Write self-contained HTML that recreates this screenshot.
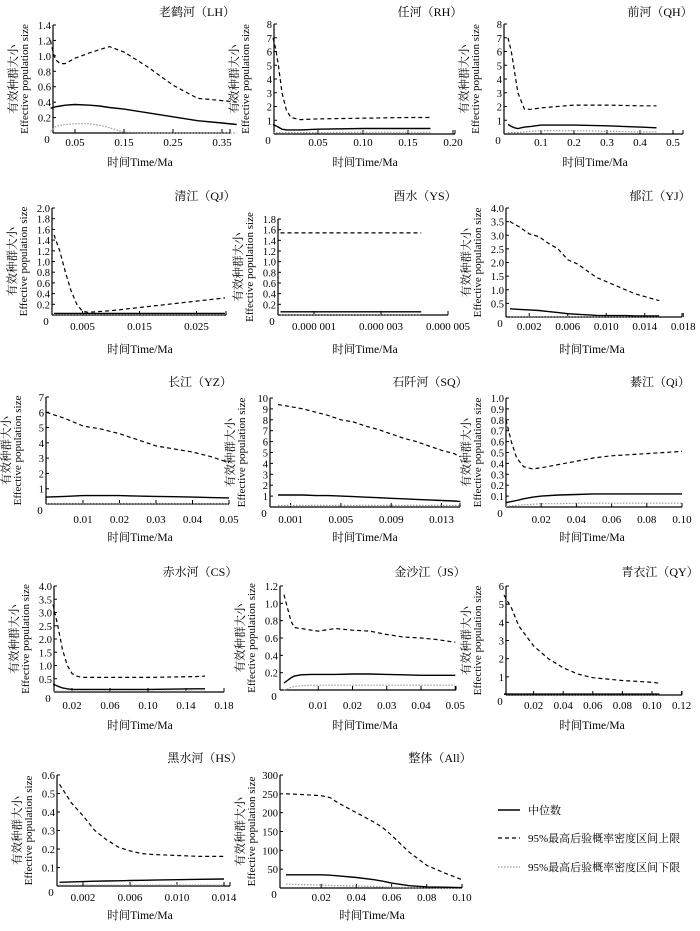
<!DOCTYPE html>
<html><head><meta charset="utf-8">
<style>
html,body{margin:0;padding:0;background:#fff;}
svg{display:block;font-family:"Liberation Serif","Noto Serif CJK SC",serif;}
</style></head>
<body>
<svg id="chart" width="700" height="931" viewBox="0 0 700 931" xmlns="http://www.w3.org/2000/svg">
<g id="legend" font-size="11">
<line x1="498" y1="810" x2="520" y2="810" stroke="#000" stroke-width="1.4"/>
<text x="528" y="814">中位数</text>
<line x1="498" y1="838" x2="520" y2="838" stroke="#000" stroke-width="1.2" stroke-dasharray="4,3"/>
<text x="528" y="842">95%最高后验概率密度区间上限</text>
<line x1="498" y1="867" x2="520" y2="867" stroke="#999" stroke-width="1.2" stroke-dasharray="1.5,1.5"/>
<text x="528" y="871">95%最高后验概率密度区间下限</text>
</g>
</svg>
<script>
// ---- data ----
const lhT=[0,0.005,0.01,0.02,0.03,0.05,0.08,0.1,0.12,0.15,0.2,0.25,0.3,0.35,0.38];
const lhUp=[1.2,1.05,0.95,0.9,0.9,0.97,1.04,1.08,1.12,1.05,0.85,0.62,0.45,0.42,0.40];
const lhMed=[0.32,0.33,0.34,0.35,0.36,0.37,0.36,0.35,0.33,0.31,0.26,0.21,0.16,0.13,0.11];
const lhLow=[0.02,0.05,0.08,0.1,0.11,0.12,0.12,0.1,0.07,0.01,0,0,0,0,0];
const lhX=["0.05","0.15","0.25","0.35"];
const lhY=["0.2","0.4","0.6","0.8","1.0","1.2","1.4"];

const rhT=[0,0.003,0.006,0.01,0.015,0.02,0.03,0.05,0.1,0.15,0.175];
const rhUp=[7,6.2,5,3,1.7,1.2,1.05,1.1,1.15,1.2,1.2];
const rhMed=[0.7,0.6,0.5,0.35,0.3,0.3,0.3,0.35,0.4,0.4,0.4];
const rhLow=[0.1,0.1,0.1,0.1,0.1,0.1,0.1,0.1,0.12,0.12,0.12];
const rhX=["0.05","0.10","0.15","0.20"];
const rhY=["1","2","3","4","5","6","7","8"];

const qhT=[0,0.01,0.02,0.03,0.05,0.07,0.1,0.2,0.3,0.4,0.45];
const qhUp=[7,6,4.5,3,1.8,1.8,1.9,2.1,2.1,2.05,2.05];
const qhMed=[0.7,0.55,0.45,0.4,0.5,0.55,0.65,0.65,0.6,0.5,0.45];
const qhLow=[0.1,0.1,0.1,0.1,0.15,0.2,0.25,0.25,0.2,0.15,0.15];
const qhX=["0.1","0.2","0.3","0.4","0.5"];
const qhY=["1","2","3","4","5","6","7","8"];

const qjT=[0,0.001,0.002,0.003,0.004,0.005,0.006,0.01,0.015,0.02,0.025,0.03];
const qjUp=[1.5,1.2,0.8,0.45,0.2,0.07,0.05,0.08,0.14,0.2,0.26,0.32];
const qjMed=[0.03,0.03,0.03,0.03,0.03,0.03,0.03,0.03,0.03,0.03,0.03,0.03];
const qjLow=[0.01,0.01,0.01,0.01,0.01,0.01,0.01,0.01,0.01,0.01,0.01,0.01];
const qjX=["0.005","0.015","0.025"];
const qjY=["0.2","0.4","0.6","0.8","1.0","1.2","1.4","1.6","1.8","2.0"];

const ysT=[0,0.000001,0.000002,0.000003,0.0000042];
const ysUp=[1.54,1.54,1.54,1.54,1.54];
const ysMed=[0.06,0.06,0.06,0.06,0.06];
const ysLow=[0.005,0.005,0.005,0.005,0.005];
const ysX=["0.000 001","0.000 003","0.000 005"];
const ysY=["0.2","0.4","0.6","0.8","1.0","1.2","1.4","1.6","1.8"];

const yjT=[0,0.001,0.002,0.003,0.004,0.005,0.006,0.007,0.008,0.009,0.01,0.011,0.012,0.013,0.014,0.015,0.0155];
const yjUp=[3.5,3.3,3.05,2.95,2.7,2.5,2.1,1.95,1.7,1.45,1.3,1.15,1.0,0.85,0.75,0.65,0.6];
const yjMed=[0.3,0.28,0.26,0.24,0.2,0.16,0.12,0.1,0.08,0.06,0.05,0.05,0.05,0.04,0.04,0.04,0.04];
const yjLow=[0.01,0.01,0.01,0.01,0.01,0.01,0.01,0.01,0.01,0.01,0.01,0.01,0.01,0.01,0.01,0.01,0.01];
const yjX=["0.002","0.006","0.010","0.014","0.018"];
const yjY=["0.5","1.0","1.5","2.0","2.5","3.0","3.5","4.0"];

const yzT=[0,0.005,0.01,0.015,0.02,0.025,0.03,0.035,0.04,0.045,0.05];
const yzUp=[6,5.6,5.1,4.9,4.6,4.2,3.8,3.6,3.4,3.1,2.7];
const yzMed=[0.45,0.5,0.55,0.55,0.55,0.52,0.5,0.48,0.45,0.42,0.4];
const yzLow=[0.02,0.02,0.02,0.02,0.02,0.02,0.02,0.02,0.02,0.02,0.02];
const yzX=["0.01","0.02","0.03","0.04","0.05"];
const yzY=["1","2","3","4","5","6","7"];

const sqT=[0,0.001,0.002,0.003,0.004,0.005,0.006,0.007,0.008,0.009,0.01,0.011,0.012,0.013,0.014,0.0145];
const sqUp=[9.4,9.2,9.0,8.7,8.4,8.0,7.8,7.4,7.1,6.7,6.3,6.0,5.6,5.2,4.9,4.6];
const sqMed=[1.1,1.1,1.1,1.05,1.05,1.0,0.95,0.9,0.85,0.8,0.75,0.7,0.65,0.6,0.55,0.5];
const sqLow=[0.15,0.15,0.15,0.15,0.15,0.15,0.15,0.15,0.15,0.15,0.15,0.15,0.15,0.15,0.15,0.15];
const sqX=["0.001","0.005","0.009","0.013"];
const sqY=["1","2","3","4","5","6","7","8","9","10"];

const qiT=[0,0.003,0.006,0.01,0.015,0.02,0.03,0.04,0.05,0.06,0.08,0.1];
const qiUp=[0.8,0.6,0.45,0.37,0.35,0.36,0.39,0.42,0.45,0.47,0.49,0.51];
const qiMed=[0.04,0.05,0.06,0.075,0.09,0.1,0.11,0.115,0.12,0.12,0.12,0.12];
const qiLow=[0.005,0.01,0.015,0.02,0.025,0.03,0.03,0.035,0.035,0.035,0.035,0.035];
const qiX=["0.02","0.04","0.06","0.08","0.10"];
const qiY=["0.1","0.2","0.3","0.4","0.5","0.6","0.7","0.8","0.9","1.0"];

const csT=[0,0.005,0.01,0.015,0.02,0.025,0.03,0.05,0.1,0.15,0.16];
const csUp=[3.3,2.5,1.6,1.0,0.7,0.6,0.55,0.55,0.55,0.58,0.6];
const csMed=[0.3,0.22,0.15,0.12,0.1,0.1,0.1,0.1,0.1,0.12,0.12];
const csLow=[0.03,0.03,0.03,0.03,0.03,0.03,0.03,0.03,0.03,0.03,0.03];
const csX=["0.02","0.06","0.10","0.14","0.18"];
const csY=["0.5","1.0","1.5","2.0","2.5","3.0","3.5","4.0"];

const jsT=[0,0.001,0.002,0.003,0.005,0.008,0.01,0.015,0.02,0.025,0.03,0.035,0.04,0.045,0.05];
const jsUp=[1.1,0.95,0.8,0.72,0.71,0.69,0.68,0.71,0.69,0.68,0.64,0.61,0.6,0.58,0.55];
const jsMed=[0.08,0.11,0.14,0.16,0.175,0.18,0.18,0.18,0.185,0.185,0.18,0.175,0.17,0.17,0.17];
const jsLow=[0,0.01,0.03,0.04,0.05,0.055,0.055,0.055,0.055,0.055,0.055,0.055,0.055,0.055,0.055];
const jsX=["0.01","0.02","0.03","0.04","0.05"];
const jsY=["0.2","0.4","0.6","0.8","1.0","1.2"];

const qyT=[0,0.005,0.01,0.02,0.03,0.04,0.05,0.06,0.08,0.1,0.105];
const qyUp=[5.5,4.8,3.8,2.7,2.0,1.5,1.15,0.95,0.8,0.7,0.65];
const qyMed=[0.05,0.05,0.05,0.05,0.05,0.05,0.05,0.05,0.05,0.05,0.05];
const qyLow=[0.02,0.02,0.02,0.02,0.02,0.02,0.02,0.02,0.02,0.02,0.02];
const qyX=["0.02","0.04","0.06","0.08","0.10","0.12"];
const qyY=["1","2","3","4","5","6"];

const hsT=[0,0.001,0.002,0.003,0.004,0.005,0.006,0.007,0.008,0.01,0.012,0.014];
const hsUp=[0.55,0.45,0.38,0.3,0.25,0.21,0.19,0.175,0.17,0.165,0.16,0.16];
const hsMed=[0.02,0.022,0.024,0.026,0.027,0.028,0.03,0.031,0.032,0.034,0.036,0.038];
const hsLow=[0.005,0.005,0.005,0.005,0.005,0.005,0.005,0.005,0.005,0.005,0.005,0.005];
const hsX=["0.002","0.006","0.010","0.014"];
const hsY=["0.1","0.2","0.3","0.4","0.5","0.6"];

const allT=[0,0.01,0.02,0.025,0.03,0.04,0.05,0.055,0.06,0.07,0.08,0.09,0.1];
const allUp=[250,248,245,240,225,200,175,160,140,95,60,40,22];
const allMed=[35,35,35,34,32,28,22,18,13,6,3,2,1];
const allLow=[10,9,8,7,6,5,4,3,2,1,0.5,0.3,0.2];
const allX=["0.02","0.04","0.06","0.08","0.10"];
const allY=["50","100","150","200","250","300"];

// ---- layout ----
const panels=[
 {id:"lh",title:"老鹤河（LH）",t:lhT,up:lhUp,med:lhMed,low:lhLow,xt:lhX,yt:lhY,ax:53,x0:50.5,xs:490,xe:230,zero:133,ytop:25,ymax:1.4,tx:197,ty:16,lx:140,ly:166,xly:146},
 {id:"rh",title:"任河（RH）",t:rhT,up:rhUp,med:rhMed,low:rhLow,xt:rhX,yt:rhY,ax:274,x0:273,xs:900,xe:455,zero:134,ytop:24,ymax:8,tx:430,ty:16,lx:365,ly:166,xly:146},
 {id:"qh",title:"前河（QH）",t:qhT,up:qhUp,med:qhMed,low:qhLow,xt:qhX,yt:qhY,ax:504,x0:508,xs:330,xe:683,zero:134,ytop:24,ymax:8,tx:660,ty:16,lx:595,ly:166,xly:146},
 {id:"qj",title:"清江（QJ）",t:qjT,up:qjUp,med:qjMed,low:qjLow,xt:qjX,yt:qjY,ax:52,x0:54,xs:5700,xe:226,zero:315,ytop:208,ymax:2.0,tx:205,ty:200,lx:140,ly:353,xly:330},
 {id:"ys",title:"酉水（YS）",t:ysT,up:ysUp,med:ysMed,low:ysLow,xt:ysX,yt:ysY,ax:278,x0:280.5,xs:33500000,xe:448,zero:315,ytop:219,ymax:1.8,tx:425,ty:200,lx:365,ly:353,xly:330},
 {id:"yj",title:"郁江（YJ）",t:yjT,up:yjUp,med:yjMed,low:yjLow,xt:yjX,yt:yjY,ax:506,x0:510,xs:9625,xe:682,zero:317,ytop:208,ymax:4.0,tx:660,ty:200,lx:592,ly:353,xly:330},
 {id:"yz",title:"长江（YZ）",t:yzT,up:yzUp,med:yzMed,low:yzLow,xt:yzX,yt:yzY,ax:46,x0:46.5,xs:3650,xe:229,zero:504,ytop:397,ymax:7,tx:200,ty:386,lx:140,ly:541,xly:523},
 {id:"sq",title:"石阡河（SQ）",t:sqT,up:sqUp,med:sqMed,low:sqLow,xt:sqX,yt:sqY,ax:270,x0:278,xs:12580,xe:460,zero:507,ytop:398,ymax:10,tx:430,ty:386,lx:365,ly:541,xly:523},
 {id:"qi",title:"綦江（Qi）",t:qiT,up:qiUp,med:qiMed,low:qiLow,xt:qiX,yt:qiY,ax:506,x0:506,xs:1760,xe:682,zero:507,ytop:398,ymax:1.0,tx:660,ty:386,lx:592,ly:541,xly:523},
 {id:"cs",title:"赤水河（CS）",t:csT,up:csUp,med:csMed,low:csLow,xt:csX,yt:csY,ax:54,x0:53,xs:950,xe:224,zero:692,ytop:586,ymax:4.0,tx:200,ty:576,lx:140,ly:729,xly:709},
 {id:"js",title:"金沙江（JS）",t:jsT,up:jsUp,med:jsMed,low:jsLow,xt:jsX,yt:jsY,ax:280,x0:284,xs:3425,xe:456,zero:690,ytop:586,ymax:1.2,tx:430,ty:576,lx:365,ly:729,xly:709},
 {id:"qy",title:"青衣江（QY）",t:qyT,up:qyUp,med:qyMed,low:qyLow,xt:qyX,yt:qyY,ax:506,x0:504,xs:1480,xe:682,zero:695,ytop:586,ymax:6,tx:660,ty:576,lx:592,ly:729,xly:709},
 {id:"hs",title:"黑水河（HS）",t:hsT,up:hsUp,med:hsMed,low:hsLow,xt:hsX,yt:hsY,ax:57,x0:59.5,xs:11750,xe:230,zero:886,ytop:775,ymax:0.6,tx:205,ty:762,lx:140,ly:919,xly:901},
 {id:"all",title:"整体（All）",t:allT,up:allUp,med:allMed,low:allLow,xt:allX,yt:allY,ax:280,x0:286,xs:1760,xe:462,zero:888,ytop:775,ymax:300,tx:440,ty:762,lx:372,ly:919,xly:901}
];
const NS="http://www.w3.org/2000/svg";
const svg=document.getElementById('chart');
function mk(tag,attrs,parent,txt){const e=document.createElementNS(NS,tag);for(const k in attrs)e.setAttribute(k,attrs[k]);if(txt!==undefined)e.textContent=txt;parent.appendChild(e);return e;}
panels.forEach(p=>{
  const g=mk('g',{},svg);
  
  
  const X=v=>p.x0+v*p.xs;
  const Y=v=>p.zero-v*(p.zero-p.ytop)/p.ymax;
  const ya=mk('line',{x1:p.ax,y1:p.ytop,x2:p.ax,y2:p.zero,stroke:'#000','stroke-width':1.2},g);
  
  
  const xa=mk('line',{x1:p.ax,y1:p.zero,x2:p.xe,y2:p.zero,stroke:'#000','stroke-width':1.2},g);
  
  
  mk('line',{x1:p.xe,y1:p.zero,x2:p.xe,y2:p.zero-4,stroke:'#000','stroke-width':1},g);
  p.yt.forEach(s=>{const v=parseFloat(s);const y=Y(v);
    mk('line',{x1:p.ax,y1:y,x2:p.ax+3,y2:y,stroke:'#000','stroke-width':1},g);
    const t=mk('text',{x:p.ax-2,y:y+4,'font-size':10.5,'text-anchor':'end'},g,s);
    
    
  });
  p.xt.forEach(s=>{const v=parseFloat(s.replace(/ /g,''));const x=X(v);
    mk('line',{x1:x,y1:p.zero,x2:x,y2:p.zero-4,stroke:'#000','stroke-width':1},g);
    const t=mk('text',{x:x,y:p.xly,'font-size':11,'text-anchor':'middle'},g,s);
    
    
  });
  mk('text',{x:p.ax-6,y:p.zero+10,'font-size':11,'text-anchor':'middle'},g,'0');
  const pts=arr=>p.t.map((t,i)=>X(t).toFixed(1)+','+Y(arr[i]).toFixed(1)).join(' ');
  const lo=mk('polyline',{points:pts(p.low),fill:'none',stroke:'#999','stroke-width':1.2,'stroke-dasharray':'1.5,1.5'},g);
  
  
  const md=mk('polyline',{points:pts(p.med),fill:'none',stroke:'#000','stroke-width':1.4},g);
  
  
  const u=mk('polyline',{points:pts(p.up),fill:'none',stroke:'#000','stroke-width':1.2,'stroke-dasharray':'4,3'},g);
  
  
  const ti=mk('text',{x:p.tx,y:p.ty,'font-size':12,'text-anchor':'middle'},g,p.title);
  
  
  const xl=mk('text',{x:p.lx,y:p.ly,'font-size':11.5,'text-anchor':'middle'},g,'时间Time/Ma');
  
  
  const cy=(p.ytop+p.zero)/2;
  const y1=mk('text',{x:0,y:0,'font-size':11.5,'text-anchor':'middle',transform:`translate(${p.ax-36},${cy}) rotate(-90)`},g,'有效种群大小');
  
  
  const y2=mk('text',{x:0,y:0,'font-size':11,'text-anchor':'middle',transform:`translate(${p.ax-25},${cy}) rotate(-90)`},g,'Effective population size');
  
  
});
</script>
</body></html>
